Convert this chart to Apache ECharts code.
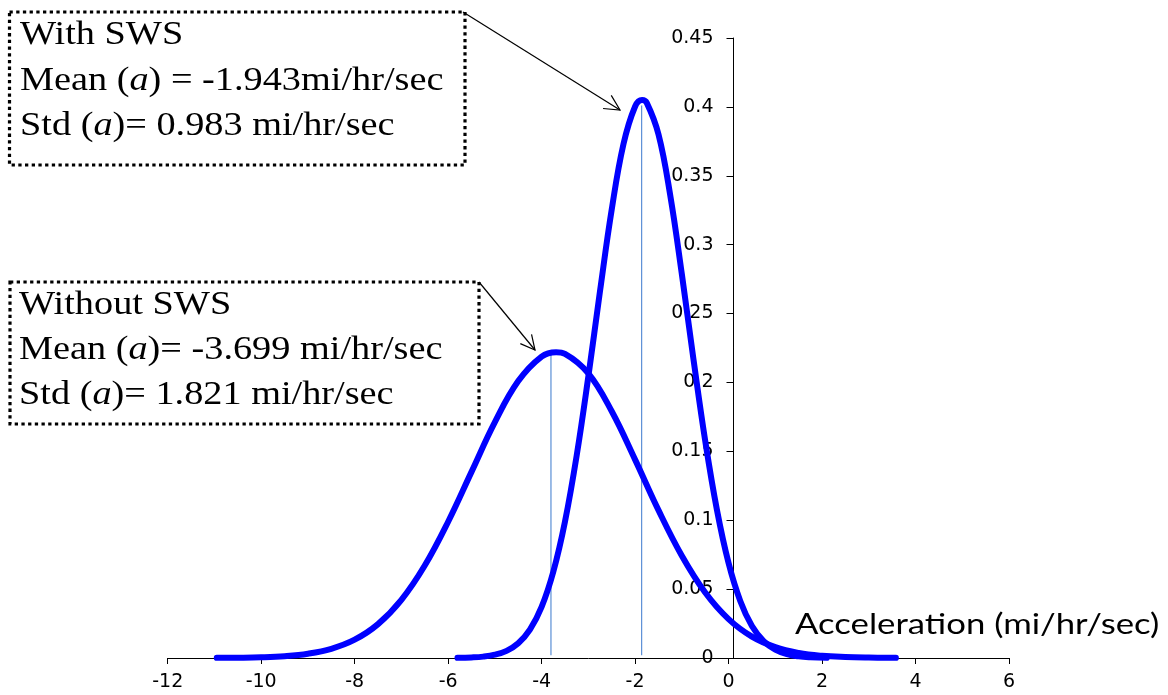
<!DOCTYPE html>
<html><head><meta charset="utf-8">
<script src="https://cdn.jsdelivr.net/npm/echarts@6/dist/echarts.min.js"></script>
<style>html,body{margin:0;padding:0;background:#fff}#c{width:1168px;height:695px}</style>
</head><body><div id="c"></div>
<script>
// ---- data ----
const withSwsX = [-5.8,-5.5,-5.25,-5.0,-4.75,-4.5,-4.25,-4.0,-3.75,-3.5,-3.25,-3.0,-2.75,-2.5,-2.25,-2.0,-1.85,-1.75,-1.5,-1.25,-1.0,-0.75,-0.5,-0.25,0,0.25,0.5,0.75,1.0,1.25,1.5,1.75,2.1];
const withSwsY = [0.0001,0.0004,0.0010,0.0024,0.0052,0.0107,0.0206,0.0371,0.0626,0.0990,0.1469,0.2043,0.2664,0.3255,0.3728,0.4003,0.4050,0.4029,0.3801,0.3362,0.2787,0.2166,0.1577,0.1077,0.0689,0.0414,0.0232,0.0123,0.0061,0.0028,0.0012,0.0005,0.0001];
const withoutSwsX = [-10.95,-10.5,-10,-9.5,-9,-8.5,-8,-7.5,-7,-6.5,-6,-5.5,-5,-4.5,-4,-3.69,-3.5,-3,-2.5,-2,-1.5,-1,-0.5,0,0.5,1,1.5,2,2.5,3,3.58];
const withoutSwsY = [0.0001,0.0002,0.0005,0.0013,0.0031,0.0067,0.0133,0.0246,0.0422,0.0671,0.0989,0.1351,0.1712,0.2010,0.2188,0.2220,0.2208,0.2066,0.1791,0.1440,0.1073,0.0742,0.0475,0.0282,0.0155,0.0079,0.0037,0.0016,0.0007,0.0003,0.0001];
// vertical marker lines: [x, bottom, top]
const withMarker = [-1.86, 0.002, 0.401];
const withoutMarker = [-3.80, 0.002, 0.222];
const xAxisRange = [-12, 6, 2];      // min, max, interval
const yAxisRange = [0, 0.45, 0.05];
const axisTitle = 'Acceleration (mi/hr/sec)';
const boxWithLines = [
  [['With SWS','n']],
  [['Mean (','n'],['a','i'],[') = -1.943mi/hr/sec','n']],
  [['Std (','n'],['a','i'],[')= 0.983 mi/hr/sec','n']]
];
const boxWithoutLines = [
  [['Without SWS','n']],
  [['Mean (','n'],['a','i'],[')= -3.699 mi/hr/sec','n']],
  [['Std (','n'],['a','i'],[')= 1.821 mi/hr/sec','n']]
];

const chart = echarts.init(document.getElementById('c'));
const serifFont = '"Liberation Serif","Times New Roman",serif';
const rich = {
  n: {fontFamily: serifFont, fontSize: 33, fill: '#000', color: '#000'},
  i: {fontFamily: serifFont, fontSize: 33, fontStyle: 'italic', fill: '#000', color: '#000'}
};
function richStr(segs){ return segs.map(s => '{' + s[1] + '|' + s[0] + '}').join(''); }
function textLines(lines, x, ys){
  return lines.map((l, k) => ({
    type: 'text', x: x, y: ys[k], z: 10, scaleX: 1.16, scaleY: 1,
    style: {text: richStr(l), rich: rich, font: '33px ' + serifFont, fill: '#000', verticalAlign: 'middle', align: 'left'}
  }));
}
function arrow(x1, y1, x2, y2, len, ang){
  const a = Math.atan2(y2 - y1, x2 - x1);
  return [
    {type: 'line', z: 10, shape: {x1, y1, x2, y2}, style: {stroke: '#000', lineWidth: 1.2}},
    {type: 'polyline', z: 10, shape: {points: [
      [x2 - len * Math.cos(a - ang), y2 - len * Math.sin(a - ang)], [x2, y2],
      [x2 - len * Math.cos(a + ang), y2 - len * Math.sin(a + ang)]]},
      style: {stroke: '#000', fill: null, lineWidth: 1.2}}
  ];
}
const dotted = {stroke: '#000', fill: 'rgba(0,0,0,0)', lineWidth: 3.2, lineDash: [3.3, 3.4]};

const gridLeft = 167.7, gridRight = 1009, yAxisPx = 733.5;
const tickFont = '"DejaVu Sans", Verdana, sans-serif';

const option = {
  animation: false,
  backgroundColor: '#fff',
  grid: {left: gridLeft, right: 1168 - gridRight, top: 38, bottom: 695 - 658, containLabel: false},
  xAxis: {
    type: 'value', min: xAxisRange[0], max: xAxisRange[1], interval: xAxisRange[2],
    axisLine: {onZero: false, lineStyle: {color: '#000', width: 1}},
    axisTick: {show: true, length: 6, lineStyle: {color: '#000'}},
    axisLabel: {color: '#000', fontFamily: tickFont, fontSize: 19, margin: 15},
    splitLine: {show: false}
  },
  yAxis: {
    type: 'value', min: yAxisRange[0], max: yAxisRange[1], interval: yAxisRange[2],
    position: 'left', offset: -(yAxisPx - gridLeft),
    axisLine: {show: true, onZero: false, lineStyle: {color: '#000', width: 1}},
    axisTick: {show: true, length: 7, lineStyle: {color: '#000'}},
    axisLabel: {color: '#000', fontFamily: tickFont, fontSize: 19, margin: 20},
    splitLine: {show: false}
  },
  series: [
    {type: 'line', name: 'withMarker', data: [[withMarker[0], withMarker[1]], [withMarker[0], withMarker[2]]],
     showSymbol: false, symbol: 'none', clip: false, lineStyle: {color: '#5b8fd6', width: 1.2}, z: 2},
    {type: 'line', name: 'withoutMarker', data: [[withoutMarker[0], withoutMarker[1]], [withoutMarker[0], withoutMarker[2]]],
     showSymbol: false, symbol: 'none', clip: false, lineStyle: {color: '#5b8fd6', width: 1.2}, z: 2},
    {type: 'line', name: 'Without SWS', data: withoutSwsX.map((x, i) => [x, withoutSwsY[i]]),
     smooth: 0.4, showSymbol: false, symbol: 'none', clip: false,
     lineStyle: {color: '#0000ff', width: 6, cap: 'round', join: 'round'}, z: 3},
    {type: 'line', name: 'With SWS', data: withSwsX.map((x, i) => [x, withSwsY[i]]),
     smooth: 0.4, showSymbol: false, symbol: 'none', clip: false,
     lineStyle: {color: '#0000ff', width: 6, cap: 'round', join: 'round'}, z: 4}
  ],
  graphic: [
    {type: 'rect', z: 9, shape: {x: 9.5, y: 12, width: 455.5, height: 153}, style: dotted},
    {type: 'rect', z: 9, shape: {x: 10, y: 282, width: 469, height: 142}, style: dotted},
    ...textLines(boxWithLines, 20, [35, 81, 126]),
    ...textLines(boxWithoutLines, 19, [305, 350.5, 395]),
    ...arrow(463, 12, 620, 110, 17, 27 * Math.PI / 180),
    ...arrow(479, 282, 535, 350, 16, 27 * Math.PI / 180),
    {type: 'text', x: 795, y: 625, z: 10, scaleX: 1.24, scaleY: 1.03,
     style: {text: axisTitle, font: '28px Lato, "Open Sans", sans-serif', fill: '#000', verticalAlign: 'middle', align: 'left'}}
  ]
};
chart.setOption(option);
</script>
</body></html>
